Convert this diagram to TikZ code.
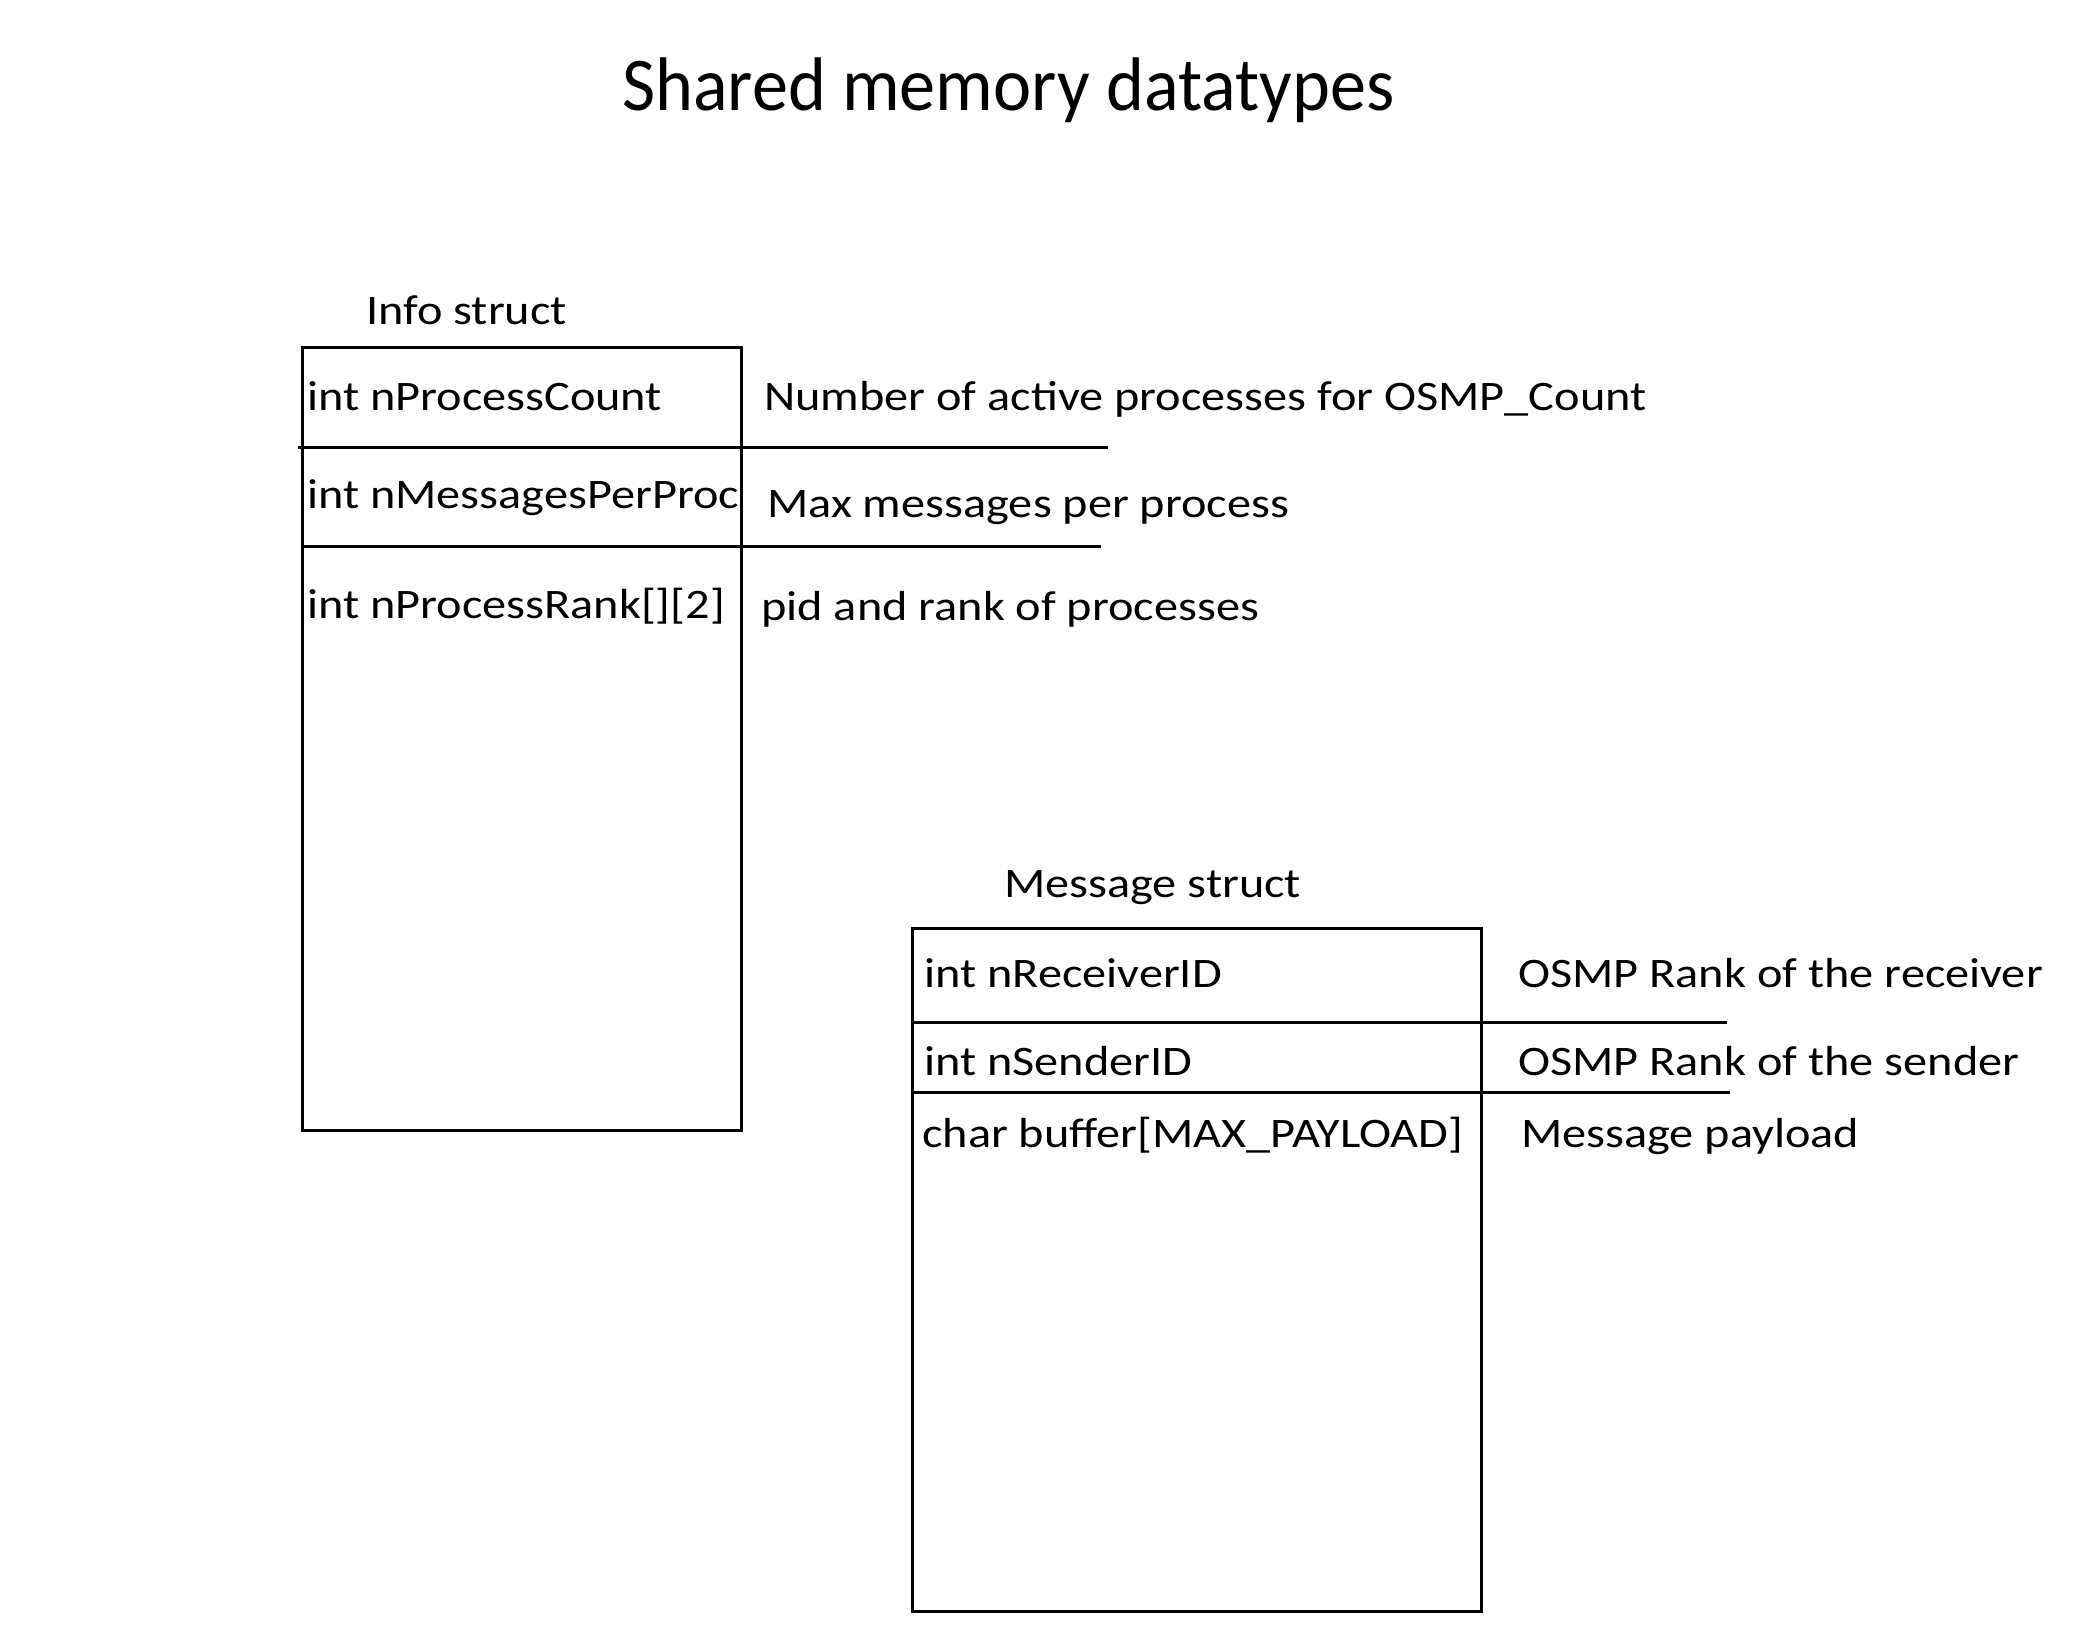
\documentclass[tikz,border=0pt]{standalone}
\usepackage{fontspec}
\setmainfont{Carlito}
\newfontfamily\lblfont[FakeStretch=1.15]{Carlito}
\newfontfamily\ttlfont[FakeStretch=0.95]{Carlito}
\begin{document}
\begin{tikzpicture}[x=1pt,y=-1pt,
  lbl/.style={anchor=base west,inner sep=0pt,font=\lblfont\fontsize{42}{50}\selectfont},
  ttl/.style={anchor=base west,inner sep=0pt,font=\ttlfont\fontsize{76}{90}\selectfont},
  box/.style={draw,line width=3pt,anchor=north west,inner sep=0pt},
  sep/.style={line width=3pt}]
\useasboundingbox (0,0) rectangle (2084,1651);
\node[ttl] (title) at (622,111) {Shared memory datatypes};
% Info struct
\node[lbl] (infot) at (366,324) {Info struct};
\node[box,minimum width=439pt,minimum height=783pt] (info) at (301,346) {};
\coordinate (i1a) at (298,447); \coordinate (i1b) at (1108,447);
\coordinate (i2a) at (301,546); \coordinate (i2b) at (1101,546);
\draw[sep] (i1a) -- (i1b);
\draw[sep] (i2a) -- (i2b);
\node[lbl] (f1) at (307,410) {int nProcessCount};
\node[lbl] (d1) at (764,410) {Number of active processes for OSMP\_Count};
\node[lbl] (f2) at (307,508) {int nMessagesPerProc};
\node[lbl] (d2) at (767,517) {Max messages per process};
\node[lbl] (f3) at (307,618) {int nProcessRank[][2]};
\node[lbl] (d3) at (761,620) {pid and rank of processes};
% Message struct
\node[lbl] (msgt) at (1004,897) {Message struct};
\node[box,minimum width=569pt,minimum height=683pt] (msg) at (911,927) {};
\coordinate (m1a) at (911,1022); \coordinate (m1b) at (1727,1022);
\coordinate (m2a) at (911,1092); \coordinate (m2b) at (1730,1092);
\draw[sep] (m1a) -- (m1b);
\draw[sep] (m2a) -- (m2b);
\node[lbl] (g1) at (924,987) {int nReceiverID};
\node[lbl] (e1) at (1518,987) {OSMP Rank of the receiver};
\node[lbl] (g2) at (924,1075) {int nSenderID};
\node[lbl] (e2) at (1518,1075) {OSMP Rank of the sender};
\node[lbl] (g3) at (922,1147) {char buffer[MAX\_PAYLOAD]};
\node[lbl] (e3) at (1521,1147) {Message payload};
\end{tikzpicture}
\end{document}
